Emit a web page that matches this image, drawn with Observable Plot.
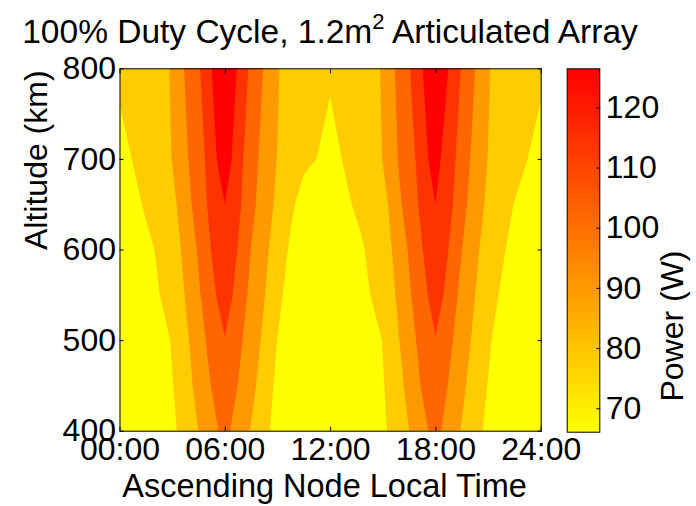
<!DOCTYPE html>
<html><head><meta charset="utf-8">
<script src="https://cdn.jsdelivr.net/npm/d3@7"></script>
<script src="https://cdn.jsdelivr.net/npm/@observablehq/plot@0.6"></script>
<style>
body{margin:0;background:#fff;}
#wrap{position:relative;width:696px;height:506px;overflow:hidden;font-family:"Liberation Sans",Arial,sans-serif;}
#title{position:absolute;left:0;top:15px;width:660px;text-align:center;font-size:33.5px;line-height:33px;color:#000;white-space:nowrap;}
#title sup{font-size:22px;position:relative;top:-14px;vertical-align:baseline;line-height:0;}
#main,#cbar{position:absolute;top:0;}
#main{left:0;}
#cbar{left:540px;}
</style></head><body>
<div id="wrap"><div id="main"></div><div id="cbar"></div><div id="title">100% Duty Cycle, 1.2m<sup>2</sup> Articulated Array</div></div>
<script>
// ---- axes / labels ----
const xTicks = [0, 6, 12, 18, 24];
const xTickLabels = ["00:00", "06:00", "12:00", "18:00", "24:00"];
const yTicks = [400, 500, 600, 700, 800];
const powerTicks = [70, 80, 90, 100, 110, 120];
const powerRange = [66.1, 126.5];
const bandColors = ["#ffff00", "#ffcc00", "#ff9900", "#ff6600", "#ff3300", "#ff0000"];

// ---- contour boundaries (local time in hours at each altitude, km) ----
const alts = [400, 450, 500, 550, 600, 650, 700, 750, 800];
// morning lobe (06:00)
const am90L  = [4.49, 4.17, 3.96, 3.71, 3.50, 3.26, 2.97, 2.90, 2.84];
const am90R  = [7.44, 7.78, 8.04, 8.29, 8.50, 8.77, 8.96, 9.04, 9.11];
const am100L = [5.63, 5.21, 4.91, 4.62, 4.40, 4.11, 3.92, 3.80, 3.68];
const am100R = [6.30, 6.73, 7.02, 7.28, 7.49, 7.76, 7.91, 8.05, 8.19];
const alts110 = [504, 550, 600, 650, 700, 750, 800];
const am110L = [6.00, 5.50, 5.21, 4.99, 4.87, 4.73, 4.59];
const am110R = [6.00, 6.45, 6.71, 6.93, 7.05, 7.20, 7.34];
const alts120 = [650, 700, 750, 800];
const am120L = [6.00, 5.54, 5.40, 5.25];
const am120R = [6.00, 6.39, 6.53, 6.68];
// evening lobe (18:00)
const pm90L  = [16.50, 16.20, 15.95, 15.72, 15.52, 15.30, 14.97, 14.90, 14.85];
const pm90R  = [19.42, 19.75, 20.02, 20.27, 20.50, 20.78, 20.97, 21.05, 21.12];
const pm100L = [17.60, 17.15, 16.90, 16.62, 16.41, 16.08, 15.85, 15.77, 15.70];
const pm100R = [18.33, 18.70, 19.00, 19.27, 19.52, 19.80, 19.98, 20.13, 20.27];
const pm110L = [18.00, 17.57, 17.28, 17.02, 16.86, 16.70, 16.56];
const pm110R = [18.00, 18.46, 18.74, 19.00, 19.15, 19.30, 19.45];
const pm120L = [18.00, 17.60, 17.44, 17.28];
const pm120R = [18.00, 18.30, 18.52, 18.74];
// lowest (yellow) regions
const altsDawnY = [400, 450, 500, 550, 600, 650, 700, 761];
const dawnYFrom = [0, 0, 0, 0, 0, 0, 0, 0];
const dawnYTo   = [3.26, 3.07, 2.88, 2.30, 1.98, 1.27, 0.70, 0.00];
const altsNoonY = [400, 450, 500, 550, 600, 618, 650, 682, 700, 769];
const noonYFrom = [8.58, 8.77, 8.98, 9.30, 9.60, 9.71, 10.00, 10.47, 11.23, 12.00];
const noonYTo   = [15.23, 15.09, 14.95, 14.29, 13.96, 13.76, 13.23, 12.87, 12.66, 12.00];
const altsDuskY = [400, 450, 500, 550, 600, 650, 700, 763];
const duskYFrom = [20.70, 20.95, 21.20, 21.60, 22.00, 22.45, 23.25, 24.00];
const duskYTo   = [24, 24, 24, 24, 24, 24, 24, 24];

const rows = (a, t1, t2) => a.map((alt, i) => ({alt, t1: t1[i], t2: t2[i]}));
const band = (a, t1, t2, color) =>
  Plot.areaX(rows(a, t1, t2), {y: "alt", x1: "t1", x2: "t2", fill: color, curve: "linear"});

const FONT = "Liberation Sans, Arial, sans-serif";

const main = Plot.plot({
  width: 696, height: 506,
  marginLeft: 119.5, marginRight: 155.3, marginTop: 68.3, marginBottom: 75.3,
  x: {domain: [0, 24]},
  y: {domain: [400, 800]},
  style: {fontFamily: FONT, fontSize: "32px", color: "#000", background: "transparent"},
  marks: [
    Plot.frame({fill: bandColors[1]}),
    band(altsDawnY, dawnYFrom, dawnYTo, bandColors[0]),
    band(altsNoonY, noonYFrom, noonYTo, bandColors[0]),
    band(altsDuskY, duskYFrom, duskYTo, bandColors[0]),
    band(alts, am90L, am90R, bandColors[2]),
    band(alts, am100L, am100R, bandColors[3]),
    band(alts110, am110L, am110R, bandColors[4]),
    band(alts120, am120L, am120R, bandColors[5]),
    band(alts, pm90L, pm90R, bandColors[2]),
    band(alts, pm100L, pm100R, bandColors[3]),
    band(alts110, pm110L, pm110R, bandColors[4]),
    band(alts120, pm120L, pm120R, bandColors[5]),
    Plot.frame({stroke: "#000", strokeWidth: 1}),
    Plot.axisX({anchor: "bottom", ticks: xTicks, tickSize: -4, tickFormat: () => "", label: null}),
    Plot.axisX({anchor: "top", ticks: xTicks, tickSize: -4, tickFormat: () => "", label: null}),
    Plot.axisY({anchor: "left", ticks: yTicks, tickSize: -4, tickFormat: () => "", label: null}),
    Plot.axisY({anchor: "right", ticks: yTicks, tickSize: -4, tickFormat: () => "", label: null}),
    Plot.axisX({anchor: "bottom", ticks: xTicks, tickSize: 0, tickPadding: 6, fontSize: 32,
      tickFormat: d => xTickLabels[xTicks.indexOf(d)], label: null}),
    Plot.axisY({anchor: "left", ticks: yTicks, tickSize: 0, tickPadding: 4, fontSize: 32,
      tickFormat: d => String(d), label: null}),
    Plot.text(["Ascending Node Local Time"], {frameAnchor: "bottom", lineAnchor: "bottom",
      dy: 66, dx: -6, fontSize: 32.5, fill: "#000"}),
    Plot.text(["Altitude (km)"], {frameAnchor: "left", lineAnchor: "bottom", rotate: -90,
      dx: -73, fontSize: 32, fill: "#000"})
  ]
});
document.getElementById("main").appendChild(main);

const cbar = Plot.plot({
  width: 156, height: 506,
  marginLeft: 26.7, marginRight: 96.7, marginTop: 68.3, marginBottom: 74.3,
  x: {domain: [0, 1], axis: null},
  y: {domain: powerRange, axis: null},
  color: {type: "linear", domain: powerRange, range: [bandColors[0], bandColors[5]], interpolate: "rgb"},
  style: {fontFamily: FONT, fontSize: "32px", color: "#000", background: "transparent"},
  marks: [
    Plot.raster({x1: 0, x2: 1, y1: powerRange[0], y2: powerRange[1], width: 1, height: 364,
      fill: (x, y) => y}),
    Plot.frame({stroke: "#000", strokeWidth: 1}),
    Plot.axisY({anchor: "right", ticks: powerTicks, tickSize: -4, tickFormat: () => "", label: null}),
    Plot.axisY({anchor: "right", ticks: powerTicks, tickSize: 0, tickPadding: 6, fontSize: 32,
      tickFormat: d => String(d), label: null}),
    Plot.text(["Power (W)"], {frameAnchor: "right", lineAnchor: "bottom", rotate: -90,
      dx: 83, fontSize: 32, fill: "#000"})
  ]
});
document.getElementById("cbar").appendChild(cbar);
</script>
</body></html>
